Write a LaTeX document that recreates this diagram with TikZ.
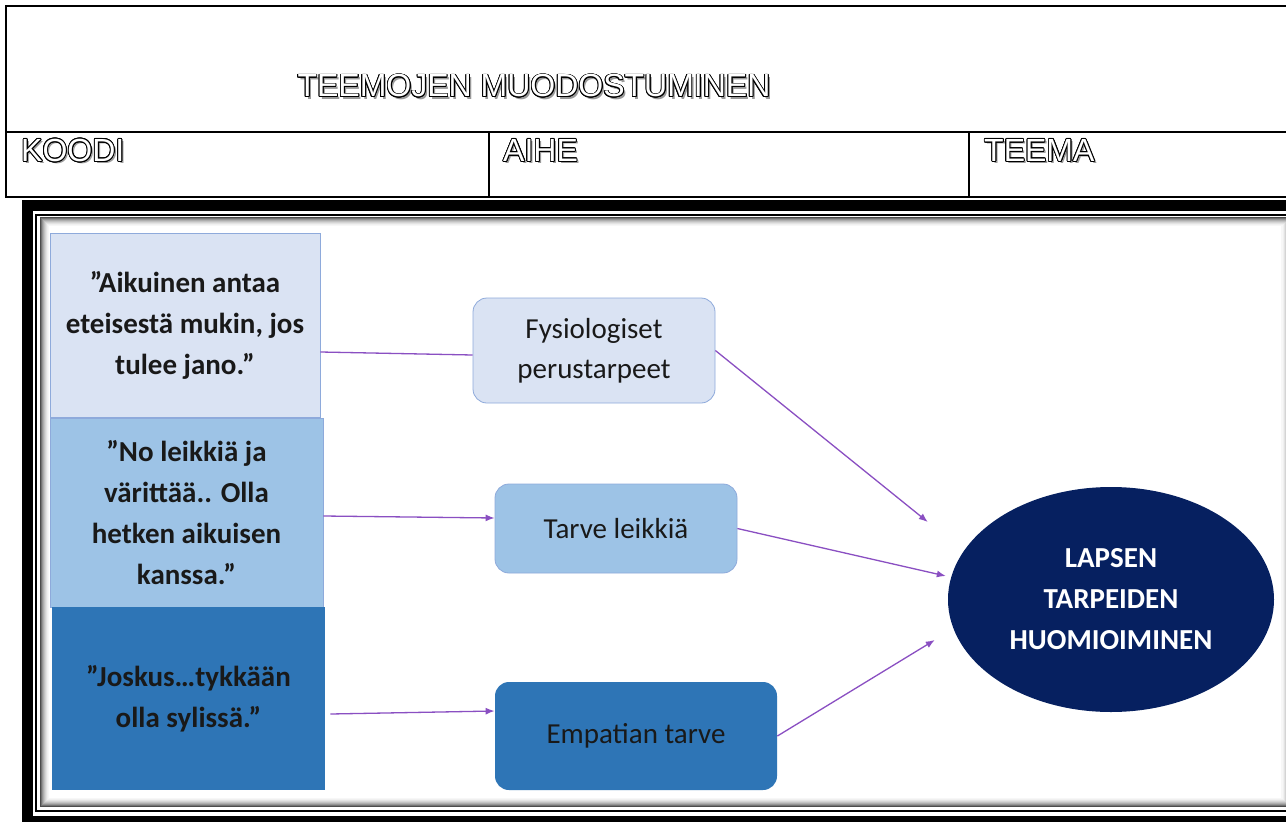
\documentclass[tikz,border=0pt]{standalone}
\usepackage{fontspec}
\usepackage{contour}
\usetikzlibrary{arrows.meta,shapes.geometric}
\setmainfont{Liberation Sans}
\newfontfamily\carlito{Carlito}
\definecolor{paleblue}{HTML}{DAE3F3}
\definecolor{midblue}{HTML}{9DC3E6}
\definecolor{deepblue}{HTML}{2E75B6}
\definecolor{navy}{HTML}{062060}
\definecolor{edgeblue}{HTML}{8EAADB}
\definecolor{lila}{HTML}{8A4FC2}
\contourlength{0.9pt}
\newcommand{\hdrtext}[1]{\makebox[0pt][l]{\hspace{2.2pt}\raisebox{-2.2pt}{\textcolor{gray!80}{#1}}}\contour{black}{\textcolor{white}{#1}}}
\tikzset{
  quote/.style={draw=edgeblue, line width=.8pt, inner sep=0pt, align=center,
    font=\carlito\bfseries\fontsize{29}{41}\selectfont, text=black!90},
  need/.style={draw=edgeblue, line width=.8pt, rounded corners=14pt, inner sep=0pt,
    align=center, font=\carlito\fontsize{29}{40}\selectfont, text=black!90},
  link/.style={lila, line width=1.3pt},
  arr/.style={lila, line width=1.3pt, -{Latex[length=9pt,width=7pt]}},
  hdr/.style={font=\fontsize{32}{34}\selectfont, inner sep=0pt}
}

\begin{document}
\begin{tikzpicture}[x=1pt, y=-1pt]
    \useasboundingbox (0,0) rectangle (1286,822);
    \fill[white] (0,0) rectangle (1286,822);

    % header table
    \begin{scope}
        \clip (0,0) rectangle (1286,822);
        \draw[line width=2pt] (6,6) rectangle (1300,197);
        \draw[line width=2pt] (6,132) -- (1300,132);
        \draw[line width=2pt] (489,132) -- (489,197);
        \draw[line width=2pt] (969,132) -- (969,197);
    \end{scope}
    \node[hdr] (title) at (534,87) {\hdrtext{TEEMOJEN MUODOSTUMINEN}};
    \node[hdr, anchor=west] (koodi) at (21,151.5) {\hdrtext{KOODI}};
    \node[hdr, anchor=west] (aihe) at (503,151.5) {\hdrtext{AIHE}};
    \node[hdr, anchor=west] (teema) at (984,151.5) {\hdrtext{TEEMA}};

    % picture frame
    \begin{scope}
        \clip (0,0) rectangle (1286,822);
        \draw[line width=11pt] (27.5,205.5) rectangle (1300,821.5);
        \draw[line width=2pt] (36,215) rectangle (1300,810.5);
        \foreach \i/\c in {0/70,1/55,2/42,3/32,4/24,5/17,6/11,7/6,8/3}
            \draw[black!\c, line width=1.1pt] (40.5+\i,217.5+\i) rectangle (1290-\i,806.5-\i);
    \end{scope}

    % quotes
    \node[quote, fill=paleblue, minimum width=270pt, minimum height=184pt] (q1) at (185,325)
        {”Aikuinen antaa\\eteisestä mukin, jos\\tulee jano.”};
    \node[quote, fill=midblue, minimum width=273pt, minimum height=189pt] (q2) at (186.5,512.5)
        {”No leikkiä ja\\värittää.. Olla\\hetken aikuisen\\kanssa.”};
    \node[quote, draw=none, fill=deepblue, minimum width=273pt, minimum height=183pt] (q3) at (188.5,698.5)
        {”Joskus…tykkään\\olla sylissä.”};

    % needs
    \node[need, fill=paleblue, minimum width=242pt, minimum height=105pt] (fys) at (594,350.5)
        {Fysiologiset\\perustarpeet};
    \node[need, fill=midblue, minimum width=242pt, minimum height=89pt] (leik) at (616,528.5)
        {Tarve leikkiä};
    \node[need, draw=none, fill=deepblue, minimum width=282pt, minimum height=108pt] (emp) at (636,736)
        {Empatian tarve};

    % theme
    \node[ellipse, fill=navy, minimum width=326pt, minimum height=225pt, inner sep=0pt, align=center,
        text=white, font=\carlito\bfseries\fontsize{29}{41}\selectfont] (teem) at (1111,599.5)
        {LAPSEN\\TARPEIDEN\\HUOMIOIMINEN};

    \draw[link] ([yshift=-27pt]q1.east) -- ([yshift=-4.5pt]fys.west);
    \draw[arr] ([yshift=-3.5pt]q2.east) -- ([yshift=10.5pt]leik.west);
    \draw[arr] ([xshift=5pt,yshift=-15.5pt]q3.east) -- ([yshift=25pt]emp.west);
    \draw[arr] (fys.east) -- ([xshift=-20pt,yshift=77.5pt]teem.west);
    \draw[arr] (leik.east) -- ([xshift=-2pt,yshift=23.5pt]teem.west);
    \draw[arr] (emp.east) -- ([xshift=-13pt,yshift=-40.5pt]teem.west);
\end{tikzpicture}
\end{document}
